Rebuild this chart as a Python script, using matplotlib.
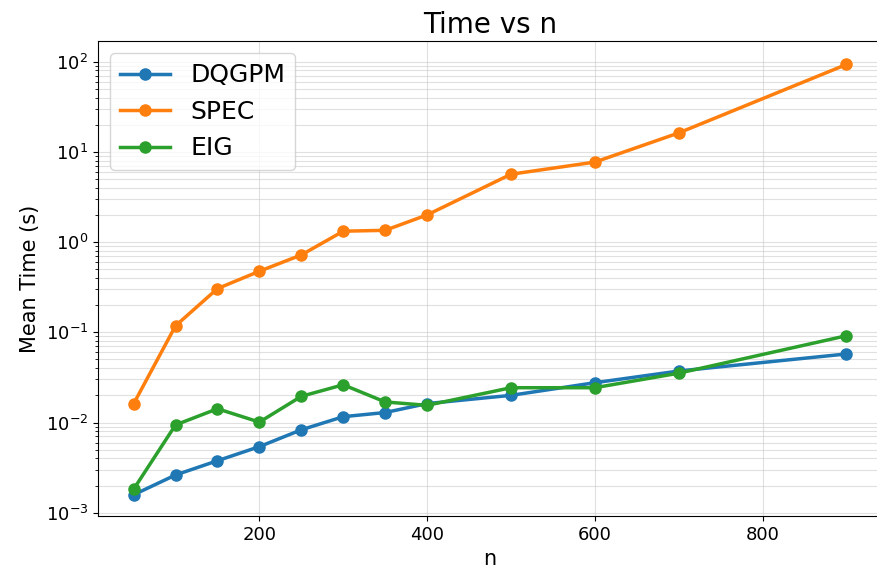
import matplotlib
matplotlib.use("Agg")
import matplotlib.pyplot as plt

# problem sizes
n_vals = [50, 100, 150, 200, 250, 300, 350, 400, 500, 600, 700, 900]

# mean times in seconds
dqgpm_time = [0.00158, 0.00262, 0.00377, 0.0054, 0.0083, 0.0116,
              0.0129, 0.0162, 0.0200, 0.0276, 0.0372, 0.0575]
spec_time = [0.0161, 0.118, 0.305, 0.475, 0.72, 1.32,
             1.35, 2.0, 5.65, 7.7, 16.2, 93.0]
eig_time = [0.00182, 0.0094, 0.0142, 0.0101, 0.0195, 0.0262,
            0.0169, 0.0155, 0.0243, 0.0243, 0.0352, 0.0915]

fig = plt.figure(figsize=(8.77, 5.78), dpi=100)
ax = fig.add_axes([0.1117, 0.1073, 0.894, 0.822])

ax.plot(n_vals, dqgpm_time, marker='o', lw=2.5, ms=8, label='DQGPM')
ax.plot(n_vals, spec_time, marker='o', lw=2.5, ms=8, label='SPEC')
ax.plot(n_vals, eig_time, marker='o', lw=2.5, ms=8, label='EIG')

ax.set_yscale('log')
ax.set_ylim(0.00092, 170)
ax.set_xticks([200, 400, 600, 800])
ax.grid(True, which='major', axis='x', color='#cccccc', alpha=0.6)
ax.grid(True, which='both', axis='y', color='#cccccc', alpha=0.6)

ax.spines['right'].set_visible(False)
ax.tick_params(labelsize=13)
ax.set_xlabel('n', fontsize=15)
ax.set_ylabel('Mean Time (s)', fontsize=15)
ax.set_title('Time vs n', fontsize=20)
ax.legend(loc='upper left', fontsize=18)

fig.savefig('out.png', dpi=100)
